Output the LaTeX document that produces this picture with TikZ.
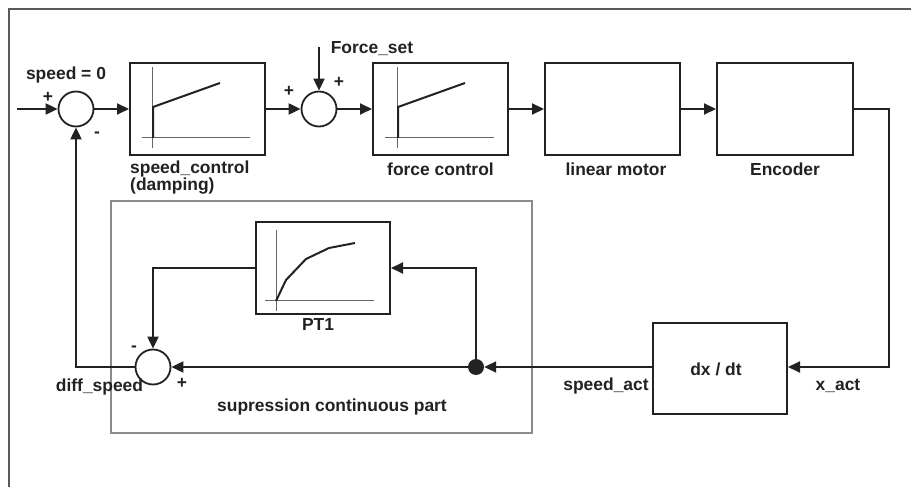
\documentclass[tikz,border=0pt]{standalone}
\usepackage{fontspec}
\setmainfont{Liberation Sans}
\usetikzlibrary{arrows.meta}
\definecolor{ink}{HTML}{222222}
\begin{document}
\begin{tikzpicture}[x=1bp,y=-1bp,
  lbl/.style={font=\fontsize{17.5}{20}\selectfont\bfseries, text=ink, inner sep=0pt},
  blk/.style={draw=ink, line width=2bp, rectangle, minimum width=135bp, minimum height=92bp, inner sep=0pt},
  sumc/.style={draw=ink, line width=1.8bp, circle, minimum size=35bp, inner sep=0pt},
  arr/.style={draw=ink, line width=2bp, -{Triangle[length=12bp,width=11bp]}},
  axisln/.style={draw=black!60, line width=1bp},
  crv/.style={draw=ink, line width=2bp},
]
\useasboundingbox (0,0) rectangle (911,487);
\fill[white] (0,0) rectangle (911,487);
% outer frame
\draw[black!65, line width=1.5bp] (9,487) -- (9,9) -- (911,9);
% group frame
\draw[black!45, line width=1.2bp] (111,201) rectangle (532,433);

% sums
\node[sumc] (s1) at (76,109) {};
\node[sumc] (s2) at (319,109) {};
\node[sumc] (s3) at (153,367) {};

% blocks
\node[blk] (b1) at (197.5,109) {};
\node[blk] (b2) at (440.5,109) {};
\node[blk] (b3) at (612.5,109) {};
\node[blk, minimum width=136bp] (b4) at (785,109) {};
\node[blk, minimum width=134bp, minimum height=91bp] (dx) at (720,368.5) {};
\node[blk, minimum width=134bp, minimum height=92bp] (pt) at (323,268) {};
\node[circle, fill=ink, minimum size=16bp, inner sep=0pt] (dot) at (476,367) {};

% inner graphs
\draw[axisln] (152,67) -- (152,148);
\draw[axisln] (142,138) -- (250,138);
\draw[crv] (153,138) -- (153,107) -- (220,83);
\draw[axisln] (397,67) -- (397,148);
\draw[axisln] (385,138) -- (494,138);
\draw[crv] (398,138) -- (398,107) -- (465,83);
\draw[axisln] (276,230) -- (276,311);
\draw[axisln] (265,301) -- (374,301);
\draw[crv] (276,301) -- (286,280) -- (306,259) -- (329,248) -- (355,243);

% connectors
\coordinate (in) at (17,109);
\coordinate (fs) at (319,47);
\coordinate (c1) at (889,109);
\draw[arr] (in) -- (s1.west);
\draw[arr] (s1.east) -- (b1.west);
\draw[arr] (b1.east) -- (s2.west);
\draw[arr] (fs) -- (s2.north);
\draw[arr] (s2.east) -- (b2.west);
\draw[arr] (b2.east) -- (b3.west);
\draw[arr] (b3.east) -- (b4.west);
\draw[arr] (b4.east) -- (c1) |- (dx.east |- dot);
\draw[arr] (dx.west |- dot) -- (dot.east);
\draw[arr] (dot.west) -- (s3.east);
\draw[arr] (dot.north) |- (pt.east);
\draw[arr] (pt.west) -| (s3.north);
\draw[arr] (s3.west) -| (s1.south);

% labels
\node[lbl] (lsp) at (66,75) {speed = 0};
\node[lbl] (lfs) at (372,49) {Force\_set};
\node[lbl, anchor=west] (lsc) at (130,169) {speed\_control};
\node[lbl, anchor=west] (ldp) at (130,186) {(damping)};
\node[lbl] (lfc) at (440.5,169) {force control};
\node[lbl] (llm) at (616,169) {linear motor};
\node[lbl] (len) at (785,169) {Encoder};
\node[lbl] (ldx) at (716,369) {dx / dt};
\node[lbl] (lsa) at (606,386) {speed\_act};
\node[lbl] (lxa) at (838,386) {x\_act};
\node[lbl] (lpt) at (318,325) {PT1};
\node[lbl] (lds) at (99.5,387) {diff\_speed};
\node[lbl] (lsu) at (332,407) {supression continuous part};
% signs
\node[lbl] (p1) at (48,97) {+};
\node[lbl] (m1) at (97,135) {-};
\node[lbl] (p2) at (289,91) {+};
\node[lbl] (p3) at (339,82) {+};
\node[lbl] (m3) at (134,349) {-};
\node[lbl] (p4) at (182,383) {+};
\end{tikzpicture}
\end{document}
